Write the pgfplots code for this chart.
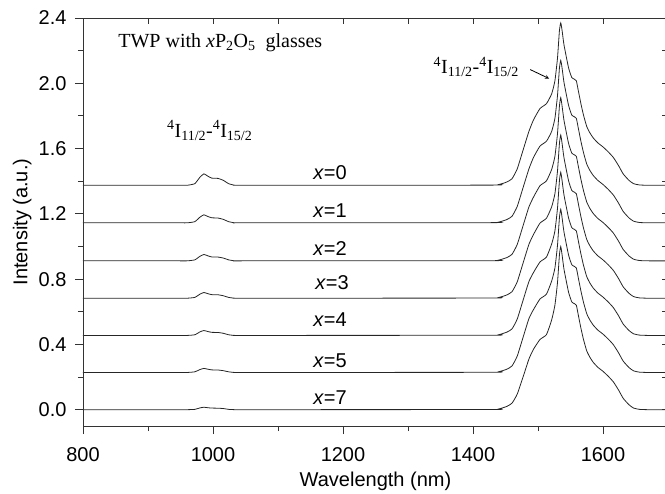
\documentclass[border=0pt]{standalone}
\usepackage{pgfplots}
\pgfplotsset{compat=1.18}
\usepackage{pgfplotstable}
\usepackage{fontspec}
\setmainfont{Liberation Sans}
\newfontfamily\serif{Liberation Serif}
\newcommand\fz{\fontsize{20}{24}\selectfont}

% spectra, already offset as in the figure
\pgfplotstableread{
nm I
800 1.375
945 1.375
960 1.375
972 1.385
980 1.425
986 1.445
992 1.431
998 1.419
1008 1.417
1016 1.405
1024 1.385
1034 1.375
1050 1.375
1425 1.376
1440 1.380
1452 1.395
1460 1.415
1468 1.475
1477 1.590
1486 1.705
1493 1.775
1503 1.845
1513 1.875
1521 1.935
1526 2.015
1530 2.155
1533 2.325
1535 2.370
1537 2.325
1540 2.235
1547 2.095
1552 2.035
1556 2.025
1559 2.015
1562 1.955
1566 1.875
1570 1.805
1575 1.735
1580 1.695
1585 1.665
1592 1.635
1600 1.610
1608 1.580
1616 1.545
1624 1.495
1631 1.445
1640 1.405
1647 1.385
1656 1.377
1670 1.375
1700 1.375
}\xzero

\pgfplotstableread{
nm I
800 1.145
945 1.145
960 1.145
972 1.152
980 1.180
986 1.194
992 1.184
998 1.176
1008 1.174
1016 1.166
1024 1.152
1034 1.145
1050 1.145
1425 1.146
1440 1.150
1452 1.165
1460 1.185
1468 1.245
1477 1.360
1486 1.475
1493 1.545
1503 1.615
1513 1.645
1521 1.705
1526 1.785
1530 1.925
1533 2.095
1535 2.140
1537 2.095
1540 2.005
1547 1.865
1552 1.805
1556 1.795
1559 1.785
1562 1.725
1566 1.645
1570 1.575
1575 1.505
1580 1.465
1585 1.435
1592 1.405
1600 1.380
1608 1.350
1616 1.315
1624 1.265
1631 1.215
1640 1.175
1647 1.155
1656 1.147
1670 1.145
1700 1.145
}\xone

\pgfplotstableread{
nm I
800 0.912
945 0.912
960 0.912
972 0.918
980 0.940
986 0.951
992 0.943
998 0.936
1008 0.935
1016 0.929
1024 0.918
1034 0.912
1050 0.912
1425 0.913
1440 0.917
1452 0.932
1460 0.952
1468 1.012
1477 1.127
1486 1.242
1493 1.302
1503 1.372
1513 1.402
1521 1.472
1526 1.552
1530 1.692
1533 1.862
1535 1.912
1537 1.862
1540 1.772
1547 1.632
1552 1.572
1556 1.562
1559 1.552
1562 1.492
1566 1.412
1570 1.342
1575 1.272
1580 1.232
1585 1.202
1592 1.172
1600 1.147
1608 1.117
1616 1.082
1624 1.032
1631 0.982
1640 0.942
1647 0.922
1656 0.914
1670 0.912
1700 0.912
}\xtwo

\pgfplotstableread{
nm I
800 0.683
945 0.683
960 0.683
972 0.688
980 0.708
986 0.718
992 0.711
998 0.705
1008 0.704
1016 0.698
1024 0.688
1034 0.683
1050 0.683
1425 0.684
1440 0.688
1452 0.703
1460 0.723
1468 0.783
1477 0.898
1486 1.013
1493 1.073
1503 1.143
1513 1.173
1521 1.243
1526 1.323
1530 1.463
1533 1.633
1535 1.683
1537 1.633
1540 1.543
1547 1.403
1552 1.343
1556 1.333
1559 1.323
1562 1.263
1566 1.183
1570 1.113
1575 1.043
1580 1.003
1585 0.973
1592 0.943
1600 0.918
1608 0.888
1616 0.853
1624 0.803
1631 0.753
1640 0.713
1647 0.693
1656 0.685
1670 0.683
1700 0.683
}\xthree

\pgfplotstableread{
nm I
800 0.455
945 0.455
960 0.455
972 0.459
980 0.477
986 0.485
992 0.479
998 0.474
1008 0.473
1016 0.468
1024 0.459
1034 0.455
1050 0.455
1425 0.456
1440 0.460
1452 0.475
1460 0.495
1468 0.555
1477 0.670
1486 0.785
1493 0.840
1503 0.905
1513 0.935
1521 1.015
1526 1.095
1530 1.235
1533 1.405
1535 1.455
1537 1.405
1540 1.315
1547 1.175
1552 1.115
1556 1.105
1559 1.095
1562 1.035
1566 0.955
1570 0.885
1575 0.815
1580 0.775
1585 0.745
1592 0.715
1600 0.690
1608 0.660
1616 0.625
1624 0.575
1631 0.525
1640 0.485
1647 0.465
1656 0.457
1670 0.455
1700 0.455
}\xfour

\pgfplotstableread{
nm I
800 0.228
945 0.228
960 0.228
972 0.232
980 0.246
986 0.253
992 0.248
998 0.244
1008 0.243
1016 0.239
1024 0.232
1034 0.228
1050 0.228
1425 0.229
1440 0.233
1452 0.248
1460 0.268
1468 0.328
1477 0.443
1486 0.558
1493 0.613
1503 0.678
1513 0.708
1521 0.788
1526 0.868
1530 1.008
1533 1.178
1535 1.228
1537 1.178
1540 1.088
1547 0.948
1552 0.888
1556 0.878
1559 0.868
1562 0.808
1566 0.728
1570 0.658
1575 0.588
1580 0.548
1585 0.518
1592 0.488
1600 0.463
1608 0.433
1616 0.398
1624 0.348
1631 0.298
1640 0.258
1647 0.238
1656 0.230
1670 0.228
1700 0.228
}\xfive

\pgfplotstableread{
nm I
800 0.000
945 0.000
960 0.000
972 0.002
980 0.011
986 0.015
992 0.012
998 0.010
1008 0.009
1016 0.007
1024 0.002
1034 0.000
1050 0.000
1425 0.001
1440 0.005
1452 0.020
1460 0.040
1468 0.095
1477 0.200
1486 0.310
1493 0.370
1503 0.430
1513 0.460
1521 0.550
1526 0.640
1530 0.780
1533 0.950
1535 1.000
1537 0.950
1540 0.860
1547 0.720
1552 0.660
1556 0.650
1559 0.640
1562 0.580
1566 0.500
1570 0.430
1575 0.360
1580 0.320
1585 0.290
1592 0.260
1600 0.235
1608 0.205
1616 0.170
1624 0.120
1631 0.070
1640 0.030
1647 0.010
1656 0.002
1670 0.000
1700 0.000
}\xseven

\begin{document}
\begin{tikzpicture}
\pgfplotsset{every axis/.append style={
    scale only axis,
    width=585pt, height=408pt,
    xmin=800, xmax=1700, ymin=-0.1, ymax=2.4,
    axis line style={line width=0.9pt, black!80},
}}
\begin{axis}[
    name=main,
    xtick={800,1000,...,1600},
    minor xtick={900,1100,...,1700},
    ytick={0,0.4,...,2.41},
    minor ytick={0.2,0.6,...,2.21},
    xtick pos=bottom, ytick pos=left,
    tick align=outside,
    major tick length=8pt, minor tick length=5pt,
    tick style={line width=0.9pt, black!80},
    tick label style={font=\fz},
    /pgf/number format/assume math mode=true,
    xticklabel style={/pgf/number format/1000 sep={}, yshift=-10pt},
    yticklabel style={/pgf/number format/.cd, fixed, fixed zerofill, precision=1, /tikz/xshift=-5pt},
    xlabel={Wavelength (nm)},
    ylabel={Intensity (a.u.)},
    label style={font=\fz},
    xlabel style={at={(axis description cs:0.5,-0.136)}, anchor=center},
    ylabel style={at={(axis description cs:-0.104,0.5)}, anchor=center},
]
\pgfplotsset{spec/.style={black!85, line width=0.8pt, no markers, smooth, tension=0.3}}
\addplot[spec] table[x=nm, y=I] {\xzero};
\addplot[spec] table[x=nm, y=I] {\xone};
\addplot[spec] table[x=nm, y=I] {\xtwo};
\addplot[spec] table[x=nm, y=I] {\xthree};
\addplot[spec] table[x=nm, y=I] {\xfour};
\addplot[spec] table[x=nm, y=I] {\xfive};
\addplot[spec] table[x=nm, y=I] {\xseven};

\node[font=\fz] at (axis cs:1180,1.450) {\textit{x}=0};
\node[font=\fz] at (axis cs:1180,1.220) {\textit{x}=1};
\node[font=\fz] at (axis cs:1180,0.985) {\textit{x}=2};
\node[font=\fz] at (axis cs:1183,0.778) {\textit{x}=3};
\node[font=\fz] at (axis cs:1180,0.550) {\textit{x}=4};
\node[font=\fz] at (axis cs:1180,0.300) {\textit{x}=5};
\node[font=\fz] at (axis cs:1180,0.074) {\textit{x}=7};

\node[font=\serif\fz, anchor=west] at (axis cs:849,2.25)
  {TWP with \textit{x}P\textsubscript{2}O\textsubscript{5}\ \ glasses};
\node[font=\serif\fz] at (axis cs:995,1.71)
  {\textsuperscript{4}I\textsubscript{11/2}-\textsuperscript{4}I\textsubscript{15/2}};
\node[font=\serif\fz] at (axis cs:1405,2.10)
  {\textsuperscript{4}I\textsubscript{11/2}-\textsuperscript{4}I\textsubscript{15/2}};
\draw[-stealth, line width=0.8pt] (axis cs:1488,2.084) -- (axis cs:1517,2.029);
\end{axis}
\begin{axis}[
    xtick={900,1000,...,1600},
    ytick={0,0.2,...,2.21},
    xtick pos=top, ytick pos=right,
    tick align=inside,
    major tick length=6pt,
    tick style={line width=0.9pt, black!80},
    xticklabels={}, yticklabels={},
]
\end{axis}
\pgfresetboundingbox
\path[use as bounding box] ([xshift=-83pt,yshift=-67pt]main.south west)
  rectangle ([xshift=-3pt,yshift=18pt]main.north east);
\end{tikzpicture}
\end{document}
